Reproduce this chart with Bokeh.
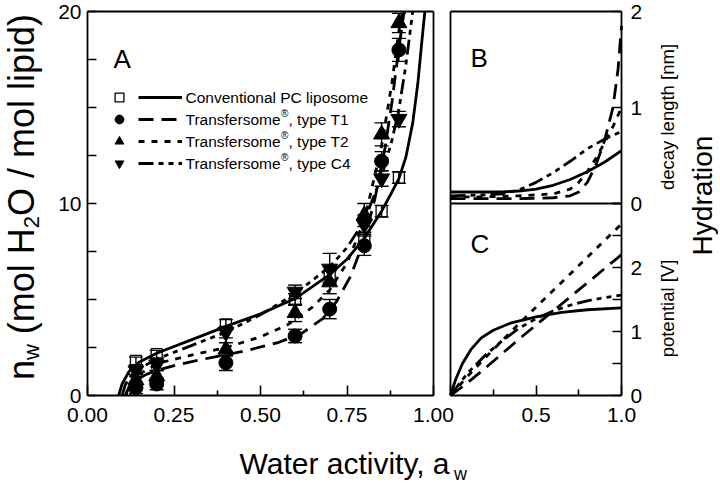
import math
from bokeh.plotting import figure
from bokeh.models import (Range1d, LinearAxis, FixedTicker, Label, Whisker,
                          ColumnDataSource, Legend, LegendItem, TeeHead)
from bokeh.embed import file_html
from bokeh.resources import INLINE

# ---------------- data: panel A (sorption isotherms) ----------------
aw_pts = [0.14, 0.20, 0.40, 0.60, 0.70, 0.80, 0.85, 0.90]
pc_pts = [1.8, 2.15, 3.7, 5.0, 6.3, 8.1, 9.6, 11.35]
pc_err = [0.2, 0.2, 0.25, 0.3, 0.4, 0.4, 0.3, 0.3]
t1_pts = [0.4, 0.6, 1.7, 3.1, 4.5, 7.8, 12.2, 18.0]
t1_err = [0.3, 0.3, 0.4, 0.35, 0.5, 0.5, 0.5, 0.6]
t2_pts = [0.8, 1.0, 2.4, 4.3, 5.9, 9.4, 13.6, 19.4]
t2_err = [0.3, 0.3, 0.35, 0.45, 0.6, 0.6, 0.6, 0.5]
c4_pts = [1.3, 1.6, 3.3, 5.4, 6.6, 8.9, 11.3, 14.4]
c4_err = [0.3, 0.3, 0.3, 0.35, 0.8, 0.5, 0.4, 0.4]

pc_fit_x = [0.09, 0.10, 0.12, 0.15, 0.20, 0.25, 0.30, 0.40, 0.50, 0.60, 0.70, 0.75,
            0.80, 0.85, 0.88, 0.90, 0.92, 0.94, 0.955, 0.965, 0.975]
pc_fit_y = [0.0, 0.6, 1.25, 1.75, 2.2, 2.55, 2.9, 3.6, 4.25, 5.05, 6.3, 7.1,
            8.2, 9.6, 10.6, 11.3, 12.4, 14.2, 16.3, 18.2, 20.0]
t1_fit_x = [0.11, 0.12, 0.14, 0.17, 0.20, 0.26, 0.35, 0.45, 0.55, 0.62, 0.68, 0.72,
            0.76, 0.80, 0.83, 0.86, 0.88, 0.90, 0.915]
t1_fit_y = [0.0, 0.45, 0.8, 1.1, 1.3, 1.6, 1.95, 2.3, 2.75, 3.25, 4.0, 4.9,
            6.2, 8.1, 10.2, 12.9, 15.3, 18.1, 20.0]
t2_fit_x = [0.11, 0.12, 0.14, 0.17, 0.22, 0.30, 0.40, 0.50, 0.58, 0.65, 0.70, 0.75,
            0.80, 0.85, 0.88, 0.90, 0.91]
t2_fit_y = [0.0, 0.5, 0.95, 1.35, 1.75, 2.1, 2.5, 3.05, 3.7, 4.6, 5.5, 6.9,
            9.1, 13.0, 16.3, 19.0, 20.0]
c4_fit_x = [0.10, 0.11, 0.13, 0.16, 0.20, 0.30, 0.40, 0.50, 0.60, 0.70, 0.75, 0.80,
            0.85, 0.88, 0.90, 0.92, 0.94]
c4_fit_y = [0.0, 0.6, 1.1, 1.5, 1.9, 2.6, 3.3, 4.2, 5.3, 6.7, 7.7, 9.1,
            11.4, 13.3, 14.9, 17.2, 20.0]

# ---------------- data: panel B (decay length, nm) ----------------
b_pc_x = [0.0, 0.1, 0.2, 0.3, 0.4, 0.5, 0.6, 0.7, 0.8, 0.9, 1.0]
b_pc_y = [0.12, 0.12, 0.12, 0.12, 0.13, 0.15, 0.19, 0.25, 0.33, 0.43, 0.55]
b_t1_x = [0.0, 0.2, 0.4, 0.6, 0.7, 0.75, 0.8, 0.85, 0.9, 0.95, 0.98, 1.0]
b_t1_y = [0.05, 0.05, 0.05, 0.06, 0.08, 0.12, 0.22, 0.4, 0.65, 1.0, 1.4, 1.85]
b_t2_x = [0.0, 0.2, 0.4, 0.6, 0.7, 0.75, 0.8, 0.85, 0.9, 0.95, 1.0]
b_t2_y = [0.07, 0.07, 0.08, 0.1, 0.15, 0.22, 0.33, 0.47, 0.63, 0.8, 1.0]
b_c4_x = [0.0, 0.2, 0.3, 0.4, 0.5, 0.6, 0.7, 0.8, 0.9, 1.0]
b_c4_y = [0.08, 0.09, 0.1, 0.14, 0.22, 0.32, 0.44, 0.57, 0.67, 0.75]

# ---------------- data: panel C (potential, V) ----------------
c_pc_x = [0.0, 0.03, 0.07, 0.12, 0.18, 0.25, 0.35, 0.5, 0.65, 0.8, 1.0]
c_pc_y = [0.0, 0.25, 0.5, 0.72, 0.9, 1.02, 1.13, 1.23, 1.3, 1.34, 1.37]
c_t1_x = [0.0, 0.1, 0.2, 0.3, 0.4, 0.5, 0.6, 0.7, 0.8, 0.9, 1.0]
c_t1_y = [0.0, 0.2, 0.42, 0.65, 0.88, 1.1, 1.32, 1.54, 1.76, 1.98, 2.2]
c_t2_x = [0.0, 0.1, 0.2, 0.3, 0.4, 0.5, 0.6, 0.7, 0.8, 0.9, 1.0]
c_t2_y = [0.0, 0.3, 0.58, 0.85, 1.12, 1.38, 1.64, 1.9, 2.16, 2.42, 2.68]
c_c4_x = [0.0, 0.05, 0.1, 0.2, 0.3, 0.4, 0.5, 0.6, 0.7, 0.8, 0.9, 1.0]
c_c4_y = [0.0, 0.18, 0.35, 0.62, 0.85, 1.05, 1.2, 1.32, 1.41, 1.48, 1.53, 1.57]

# ticks
a_ticks = [0.0, 0.25, 0.5, 0.75, 1.0]
a_tick_labels = ["0.00", "0.25", "0.50", "0.75", "1.00"]
a_minor = [0.125, 0.375, 0.625, 0.875]
nw_ticks = [0.0, 2.5, 5.0, 7.5, 10.0, 12.5, 15.0, 17.5, 20.0]
nw_tick_labels = ["0", "", "", "", "10", "", "", "", "20"]
bc_ticks = [0.0, 0.5, 1.0]
bc_tick_labels = ["", "0.5", "1.0"]
bc_minor = [0.25, 0.75]
b_ticks = [0.0, 1.0, 2.0]
b_tick_labels = ["0", "1", "2"]
c_ticks = [0.0, 0.5, 1.0, 1.5, 2.0, 2.5, 3.0]
c_tick_labels = ["0", "", "1", "", "2", "", ""]

# ---------------- layout (canvas pixels; the frame fills the canvas) ----------------
W, H = 718, 486
FL, FR, FT, FB = 87, 621, 11, 395      # outer edges of the panels
A_R, BC_L, BC_MID = 433, 450, 203       # panel A right edge, panel B/C left edge, B/C split
FONT = "Liberation Sans"

# Arial / Liberation Sans advance widths (1/1000 em) for text placement
ADV = {" ": 278, "(": 333, ")": 333, "/": 278, ",": 278, ".": 278, "[": 278, "]": 278,
       "a": 556, "c": 500, "d": 556, "e": 556, "g": 556, "h": 556, "i": 222, "l": 222,
       "m": 833, "n": 556, "o": 556, "p": 556, "r": 333, "s": 500, "t": 278, "v": 500,
       "w": 722, "y": 500, "f": 278, "H": 722, "O": 778, "W": 944, "T": 611,
       "0": 556, "1": 556, "2": 556, "3": 556, "4": 556, "\u00ae": 737}


def tw(s, size):
    return sum(ADV.get(ch, 556) for ch in s) / 1000.0 * size


ax_px = A_R - FL                 # px per unit aw (panel A)
ay_px = (FB - FT) / 20.0         # px per unit nw
bc_px = FR - BC_L                # px per unit (panels B/C x)
b_px = (BC_MID - FT) / 2.0       # px per nm
c_px = (FB - BC_MID) / 3.0       # px per V

p = figure(width=W, height=H, output_backend="svg", toolbar_location=None,
           x_range=Range1d(-FL / ax_px, (W - FL) / ax_px),
           y_range=Range1d(-(H - FB) / ay_px, 20 + FT / ay_px),
           x_axis_location=None, y_axis_location=None,
           min_border_left=0, min_border_right=0, min_border_top=0, min_border_bottom=0)
p.outline_line_color = None
p.grid.grid_line_color = None
p.background_fill_color = "white"
p.border_fill_color = "white"
p.extra_x_ranges = {"bc": Range1d(-BC_L / bc_px, (W - BC_L) / bc_px)}
p.extra_y_ranges = {"B": Range1d(-(H - BC_MID) / b_px, 2 + FT / b_px),
                    "C": Range1d(-(H - FB) / c_px, 3 + BC_MID / c_px)}


def add_axis(side, xr="default", yr="default", fixed=None, bounds=None,
             ticks=(), labels=None, minor=(), tick_in=9, minor_in=5, standoff=6):
    ax = LinearAxis(x_range_name=xr, y_range_name=yr, fixed_location=fixed, bounds=bounds,
                    ticker=FixedTicker(ticks=list(ticks), minor_ticks=list(minor)))
    ax.axis_line_width = 1.8
    ax.axis_line_color = "black"
    ax.major_tick_in = tick_in
    ax.major_tick_out = 0
    ax.minor_tick_in = minor_in
    ax.minor_tick_out = 0
    ax.major_tick_line_width = 1.6
    ax.minor_tick_line_width = 1.6
    ax.major_tick_line_color = "black"
    ax.minor_tick_line_color = "black"
    ax.major_label_text_font = FONT
    ax.major_label_text_font_size = "21px"
    ax.major_label_text_color = "black"
    ax.major_label_standoff = standoff
    if labels is None:
        ax.major_label_text_font_size = "0px"
    else:
        ax.major_label_overrides = {t: s for t, s in zip(ticks, labels)}
    p.add_layout(ax, side)
    return ax


# panel A box
add_axis("left", fixed=0.0, bounds=(0, 20), ticks=nw_ticks, labels=nw_tick_labels,
         tick_in=9, standoff=6)
add_axis("below", fixed=0.0, bounds=(0, 1), ticks=a_ticks, labels=a_tick_labels,
         minor=a_minor, tick_in=10, minor_in=5, standoff=12)
add_axis("above", fixed=20.0, bounds=(0, 1))
add_axis("right", fixed=1.0, bounds=(0, 20))
# panel B/C box
add_axis("left", xr="bc", yr="C", fixed=0.0, bounds=(0, 6))
add_axis("above", xr="bc", yr="B", fixed=2.0, bounds=(0, 1))
add_axis("below", xr="bc", yr="B", fixed=0.0, bounds=(0, 1))
add_axis("right", xr="bc", yr="B", fixed=1.0, bounds=(0, 2), ticks=b_ticks,
         labels=b_tick_labels, tick_in=9, standoff=9)
add_axis("right", xr="bc", yr="C", fixed=1.0, bounds=(0, 3), ticks=c_ticks,
         labels=c_tick_labels, tick_in=9, standoff=9)
add_axis("below", xr="bc", yr="C", fixed=0.0, bounds=(0, 1), ticks=bc_ticks,
         labels=bc_tick_labels, minor=bc_minor, tick_in=10, minor_in=6, standoff=12)

DASH_T1 = "15 8"
DASH_T2 = "6 7"
DASH_C4 = "15 5 5 5 5 5"
LW = 2.8

# ---------------- panel A curves ----------------
r_pc = p.line(pc_fit_x, pc_fit_y, line_width=LW, line_color="black")
r_t1 = p.line(t1_fit_x, t1_fit_y, line_width=LW, line_color="black", line_dash=DASH_T1)
r_t2 = p.line(t2_fit_x, t2_fit_y, line_width=LW, line_color="black", line_dash=DASH_T2)
r_c4 = p.line(c4_fit_x, c4_fit_y, line_width=LW, line_color="black", line_dash=DASH_C4)

# error bars
for vals, errs in [(pc_pts, pc_err), (t1_pts, t1_err), (t2_pts, t2_err), (c4_pts, c4_err)]:
    src = ColumnDataSource(dict(x=aw_pts,
                                lo=[v - e for v, e in zip(vals, errs)],
                                hi=[v + e for v, e in zip(vals, errs)]))
    w = Whisker(base="x", lower="lo", upper="hi", source=src, dimension="height",
                line_width=1.4, line_color="black",
                upper_head=TeeHead(size=14, line_width=1.4, line_color="black"),
                lower_head=TeeHead(size=14, line_width=1.4, line_color="black"))
    p.add_layout(w)

m_t1 = p.scatter(aw_pts, t1_pts, marker="circle", size=14, fill_color="black", line_color="black")
m_t2 = p.scatter(aw_pts, t2_pts, marker="triangle", size=16, fill_color="black", line_color="black")
m_c4 = p.scatter(aw_pts, c4_pts, marker="inverted_triangle", size=16, fill_color="black", line_color="black")
m_pc = p.scatter(aw_pts, pc_pts, marker="square", size=11, fill_color=None, line_color="black",
                 line_width=1.3)

# ---------------- panel B curves ----------------
for xs, ys, dash in [(b_pc_x, b_pc_y, "solid"), (b_t1_x, b_t1_y, DASH_T1),
                     (b_t2_x, b_t2_y, DASH_T2), (b_c4_x, b_c4_y, DASH_C4)]:
    p.line(xs, ys, line_width=LW, line_color="black", line_dash=dash,
           x_range_name="bc", y_range_name="B")

# ---------------- panel C curves ----------------
for xs, ys, dash in [(c_pc_x, c_pc_y, "solid"), (c_t1_x, c_t1_y, DASH_T1),
                     (c_t2_x, c_t2_y, DASH_T2), (c_c4_x, c_c4_y, DASH_C4)]:
    p.line(xs, ys, line_width=LW, line_color="black", line_dash=dash,
           x_range_name="bc", y_range_name="C")

# ---------------- legend ----------------
ROW_H = 22
LEG_TOP = 86
leg_common = dict(glyph_height=ROW_H, label_height=ROW_H, spacing=0, padding=0, margin=0,
                  border_line_color=None, background_fill_alpha=0,
                  label_text_font_size="1px", label_standoff=0, label_width=0)
legM = Legend(items=[LegendItem(label="", renderers=[r]) for r in [m_pc, m_t1, m_t2, m_c4]],
              location=(106, H - LEG_TOP - 4 * ROW_H), glyph_width=26, **leg_common)
legL = Legend(items=[LegendItem(label="", renderers=[r]) for r in [r_pc, r_t1, r_t2, r_c4]],
              location=(138, H - LEG_TOP - 4 * ROW_H), glyph_width=44, **leg_common)
p.add_layout(legM, "center")
p.add_layout(legL, "center")


def dx(px):
    return (px - FL) / ax_px


def dy(py):
    return (FB - py) / ay_px


def lab(text, px, py, size, angle=0.0, baseline="alphabetic", align="left"):
    p.add_layout(Label(x=dx(px), y=dy(py), text=text, text_font=FONT,
                       text_font_size=f"{size}px", text_color="black", angle=angle,
                       text_align=align, text_baseline=baseline))


# legend texts
LEG_FS = 15.5
row_y = [LEG_TOP + ROW_H * (i + 0.5) for i in range(4)]
lab("Conventional PC liposome", 185, row_y[0], LEG_FS, baseline="middle")
for i, kind in enumerate(["T1", "T2", "C4"]):
    y = row_y[i + 1]
    x0 = 185
    lab("Transfersome", x0, y, LEG_FS, baseline="middle")
    x1 = x0 + tw("Transfersome", LEG_FS)
    lab("\u00ae", x1, y - 6, 10, baseline="middle")
    x2 = x1 + tw("\u00ae", 10)
    lab(f", type {kind}", x2, y, LEG_FS, baseline="middle")

# panel letters
lab("A", 113, 58, 26)
lab("B", 470, 57, 26)
lab("C", 470, 243, 26)

# ---- axis titles ----
up = math.pi / 2
# y title: n_w (mol H2O / mol lipid), reading upwards; pieces laid end to end
YS, YSUB = 36, 22
ymid = 21           # centre line of the main text
ysub_mid = 31       # centre line of the subscripts (shifted down = right)
pieces = [("n", YS, ymid), ("w", YSUB, ysub_mid), (" ", YS, None), ("(mol H", YS, ymid),
          ("2", YSUB, ysub_mid), ("O / mol lipid)", YS, ymid)]
total = sum(tw(t, s) for t, s, _ in pieces)
ypos = 196.5 + total / 2
for t, s, xm in pieces:
    if xm is not None:
        lab(t, xm, ypos, s, angle=up, baseline="middle")
    ypos -= tw(t, s)

# x title: Water activity, a_w
xs0 = 239
lab("Water activity, a", xs0, 463, 30)
lab("w", xs0 + tw("Water activity, a", 30) + 1, 473, 18)

# right titles
lab("decay length [nm]", 667, 116.5, 18.5, angle=up, align="center", baseline="middle")
lab("potential [V]", 667, 308, 18.5, angle=up, align="center", baseline="middle")
lab("Hydration", 702, 195, 28, angle=up, align="center", baseline="middle")

open("out.html", "w").write(file_html(p, INLINE))
